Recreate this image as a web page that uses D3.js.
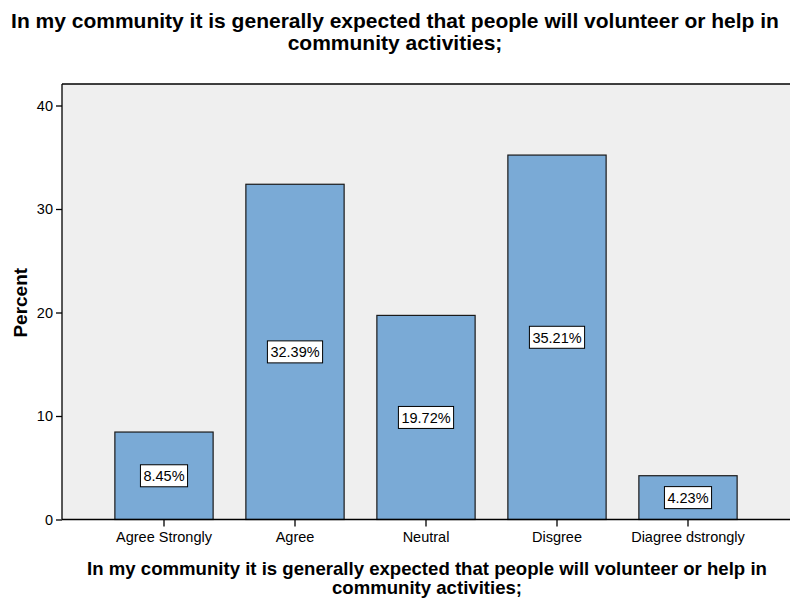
<!DOCTYPE html>
<html>
<head>
<meta charset="utf-8">
<script src="https://cdn.jsdelivr.net/npm/d3@7"></script>
<style>
  html, body { margin: 0; padding: 0; background: #ffffff; }
  svg { display: block; font-family: "Liberation Sans", Arial, sans-serif; }
</style>
</head>
<body>
<svg id="chart" width="790" height="598"></svg>
<script>
// Responses and their percentages
const categories = ["Agree Strongly", "Agree", "Neutral", "Disgree", "Diagree dstrongly"];
const percents = [8.45, 32.39, 19.72, 35.21, 4.23];
const yTicks = [0, 10, 20, 30, 40];
const titleLines = [
  "In my community it is generally expected that people will volunteer or help in",
  "community activities;"
];

const svg = d3.select("#chart");
const W = 790, H = 598;
const FONT = "Liberation Sans, Arial, sans-serif";

const frame = { left: 62, top: 84, bottom: 519.5, right: 800 };

const y = d3.scaleLinear().domain([0, 40]).range([frame.bottom, 105.5]);
const x = d3.scaleBand()
  .domain(categories)
  .range([98.5, 753.5])
  .paddingInner(0.25)
  .paddingOuter(0.125);

// Plot background
svg.append("rect")
  .attr("x", frame.left).attr("y", frame.top)
  .attr("width", frame.right - frame.left).attr("height", frame.bottom - frame.top)
  .attr("fill", "#efefef");

// Frame top edge
svg.append("line")
  .attr("x1", frame.left).attr("x2", frame.right)
  .attr("y1", frame.top).attr("y2", frame.top)
  .attr("stroke", "#000").attr("stroke-width", 1.3);

// Bars
const bars = svg.append("g");
bars.selectAll("rect")
  .data(categories)
  .join("rect")
  .attr("x", d => x(d))
  .attr("y", (d, i) => y(percents[i]))
  .attr("width", x.bandwidth())
  .attr("height", (d, i) => y(0) - y(percents[i]))
  .attr("fill", "#7aaad6")
  .attr("stroke", "#1a1a1a")
  .attr("stroke-width", 1.2);

// Value labels in white boxes at half bar height
const labels = svg.append("g");
categories.forEach((c, i) => {
  const cx = x(c) + x.bandwidth() / 2;
  const cy = y(percents[i] / 2);
  const txt = percents[i].toFixed(2) + "%";
  const g = labels.append("g").attr("transform", `translate(${cx},${cy})`);
  const t = g.append("text")
    .attr("text-anchor", "middle")
    .attr("dy", "0.36em")
    .attr("font-size", 14.5)
    .attr("fill", "#000")
    .text(txt);
  const bw = t.node().getComputedTextLength() + 6;
  g.insert("rect", "text")
    .attr("x", -bw / 2).attr("y", -11)
    .attr("width", bw).attr("height", 22)
    .attr("fill", "#fff")
    .attr("stroke", "#000")
    .attr("stroke-width", 1);
});

// Y axis
const yAxis = svg.append("g")
  .attr("transform", `translate(${frame.left},0)`)
  .call(d3.axisLeft(y).tickValues(yTicks).tickSize(6).tickPadding(3).tickSizeOuter(0));
yAxis.select(".domain").attr("d", `M0,${frame.top}V${frame.bottom}`).attr("stroke", "#000").attr("stroke-width", 1.3);
yAxis.selectAll(".tick line").attr("stroke", "#000").attr("stroke-width", 1.3);
yAxis.selectAll(".tick text").attr("font-size", 14.5).attr("fill", "#000").attr("font-family", FONT);

// X axis
const xAxis = svg.append("g")
  .attr("transform", `translate(0,${frame.bottom})`)
  .call(d3.axisBottom(x).tickSize(7).tickPadding(5).tickSizeOuter(0));
xAxis.select(".domain").attr("d", `M${frame.left},0H${frame.right}`).attr("stroke", "#000").attr("stroke-width", 1.3);
xAxis.selectAll(".tick line").attr("stroke", "#000").attr("stroke-width", 1.3);
xAxis.selectAll(".tick text").attr("font-size", 14.5).attr("fill", "#000").attr("font-family", FONT);

// Chart title
const title = svg.append("text")
  .attr("text-anchor", "middle")
  .attr("font-size", 21).attr("font-weight", "bold").attr("fill", "#000");
titleLines.forEach((l, i) => {
  title.append("tspan").attr("x", W / 2).attr("y", 27.5 + i * 22).text(l);
});

// X axis title
const xTitle = svg.append("text")
  .attr("text-anchor", "middle")
  .attr("font-size", 18.6).attr("font-weight", "bold").attr("fill", "#000");
titleLines.forEach((l, i) => {
  xTitle.append("tspan").attr("x", 427).attr("y", 574.5 + i * 19.5).text(l);
});

// Y axis title
svg.append("text")
  .attr("transform", `translate(27,${(frame.top + frame.bottom) / 2 + 1}) rotate(-90)`)
  .attr("text-anchor", "middle")
  .attr("font-size", 19).attr("font-weight", "bold").attr("fill", "#000")
  .text("Percent");
</script>
</body>
</html>
